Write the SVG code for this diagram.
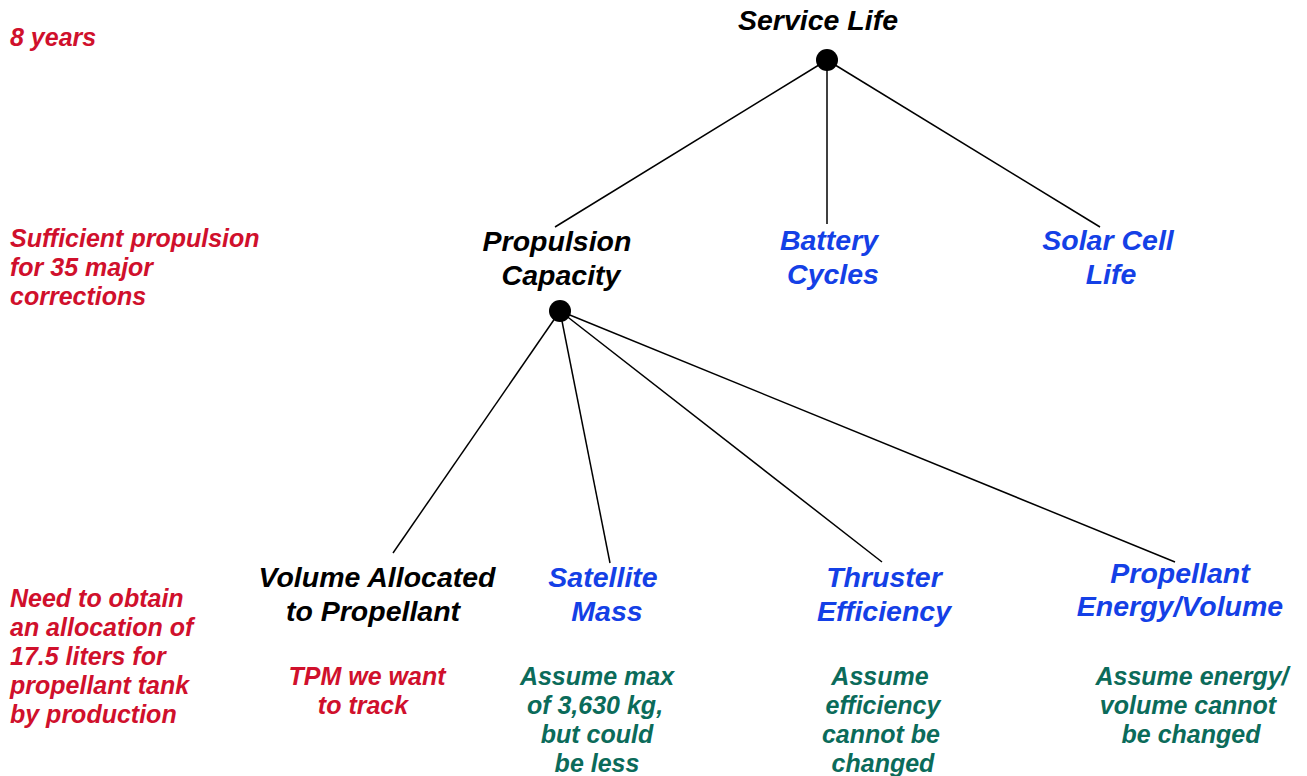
<svg xmlns="http://www.w3.org/2000/svg" width="1307" height="776" viewBox="0 0 1307 776">
<style>
text{font-family:"Liberation Sans",Arial,sans-serif;font-weight:bold;font-style:italic}
.n{font-size:28.5px;text-anchor:middle}
.a{font-size:25px;text-anchor:middle}
.l{font-size:25px;fill:#D0102C}
.k{fill:#000}
.b{fill:#1440E6}
.r{fill:#D0102C}
.g{fill:#0B6B5A}
.c line{stroke:#000;stroke-width:1.5}
</style>
<rect width="1307" height="776" fill="#fff"/>
<g id="connectors" class="c">
<line x1="827" y1="60" x2="555" y2="227"/>
<line x1="827" y1="60" x2="827" y2="224"/>
<line x1="827" y1="60" x2="1100" y2="227"/>
<line x1="560" y1="311" x2="393" y2="553"/>
<line x1="560" y1="311" x2="610" y2="563"/>
<line x1="560" y1="311" x2="882" y2="562"/>
<line x1="560" y1="311" x2="1175" y2="562"/>
</g>
<g id="left-notes">
<text class="l" x="10" y="46">8 years</text>
<text class="l" x="10" y="247">Sufficient propulsion</text>
<text class="l" x="10" y="276">for 35 major</text>
<text class="l" x="10" y="305">corrections</text>
<text class="l" x="10" y="607">Need to obtain</text>
<text class="l" x="10" y="636">an allocation of</text>
<text class="l" x="10" y="665">17.5 liters for</text>
<text class="l" x="10" y="694">propellant tank</text>
<text class="l" x="10" y="723">by production</text>
</g>
<g id="service-life">
<text class="n k" x="818" y="30">Service Life</text>
<circle cx="827" cy="60" r="11" fill="#000"/>
</g>
<g id="propulsion-capacity">
<text class="n k" x="557" y="251">Propulsion</text>
<text class="n k" x="561" y="285">Capacity</text>
<circle cx="560" cy="311" r="11" fill="#000"/>
</g>
<g id="battery-cycles">
<text class="n b" x="829" y="250">Battery</text>
<text class="n b" x="833" y="284">Cycles</text>
</g>
<g id="solar-cell-life">
<text class="n b" x="1108" y="250">Solar Cell</text>
<text class="n b" x="1111" y="284">Life</text>
</g>
<g id="volume-allocated">
<text class="n k" x="377" y="587">Volume Allocated</text>
<text class="n k" x="373" y="621">to Propellant</text>
<text class="a r" x="367" y="685">TPM we want</text>
<text class="a r" x="363" y="714">to track</text>
</g>
<g id="satellite-mass">
<text class="n b" x="603" y="587">Satellite</text>
<text class="n b" x="607" y="621">Mass</text>
<text class="a g" x="597" y="685">Assume max</text>
<text class="a g" x="595" y="714">of 3,630 kg,</text>
<text class="a g" x="597" y="743">but could</text>
<text class="a g" x="597" y="772">be less</text>
</g>
<g id="thruster-efficiency">
<text class="n b" x="884" y="587">Thruster</text>
<text class="n b" x="884" y="621">Efficiency</text>
<text class="a g" x="880" y="685">Assume</text>
<text class="a g" x="883" y="714">efficiency</text>
<text class="a g" x="881" y="743">cannot be</text>
<text class="a g" x="883" y="772">changed</text>
</g>
<g id="propellant-energy">
<text class="n b" x="1180" y="583">Propellant</text>
<text class="n b" x="1180" y="616">Energy/Volume</text>
<text class="a g" x="1192" y="685">Assume energy/</text>
<text class="a g" x="1188" y="714">volume cannot</text>
<text class="a g" x="1191" y="743">be changed</text>
</g>
</svg>
